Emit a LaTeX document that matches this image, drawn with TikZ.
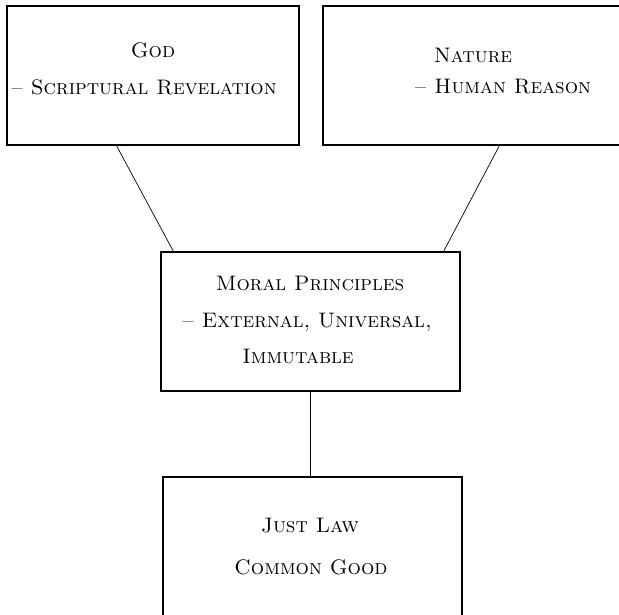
\documentclass[tikz,border=0pt]{standalone}
\usepackage{fontspec}
\begin{document}
\begin{tikzpicture}[x=1pt,y=-1pt,
  box/.style={draw,line width=1.1pt,minimum width=#1,inner sep=0pt},
  label/.style={anchor=base,inner sep=0pt,font=\fontsize{21}{24}\selectfont\scshape},
  link/.style={line width=0.7pt}]
\useasboundingbox (0,0) rectangle (619,614);
% boxes
\node[box=292pt,minimum height=139pt] (god) at (153,75.5) {};
\node[box=302pt,minimum height=139pt] (nature) at (474,75.5) {};
\node[box=299pt,minimum height=139pt] (moral) at (310.5,321.5) {};
\node[box=299pt,minimum height=143pt] (law) at (312.5,548.5) {};
% texts
\node[label] (t1) at (153,57) {God};
\node[label] (t2) at (144,94) {-- Scriptural Revelation};
\node[label] (t3) at (473,62) {Nature};
\node[label] (t4) at (503,93) {-- Human Reason};
\node[label] (t5) at (310,290) {Moral Principles};
\node[label] (t6) at (307,327) {-- External, Universal,};
\node[label] (t7) at (298,363) {Immutable};
\node[label] (t8) at (310,532) {Just Law};
\node[label] (t9) at (311,574) {Common Good};
% connectors
\draw[link] ([xshift=110pt]god.south west) -- ([xshift=13pt]moral.north west);
\draw[link] ([xshift=177pt]nature.south west) -- ([xshift=-17pt]moral.north east);
\draw[link] (moral.south) -- (moral.south |- law.north);
\end{tikzpicture}
\end{document}
